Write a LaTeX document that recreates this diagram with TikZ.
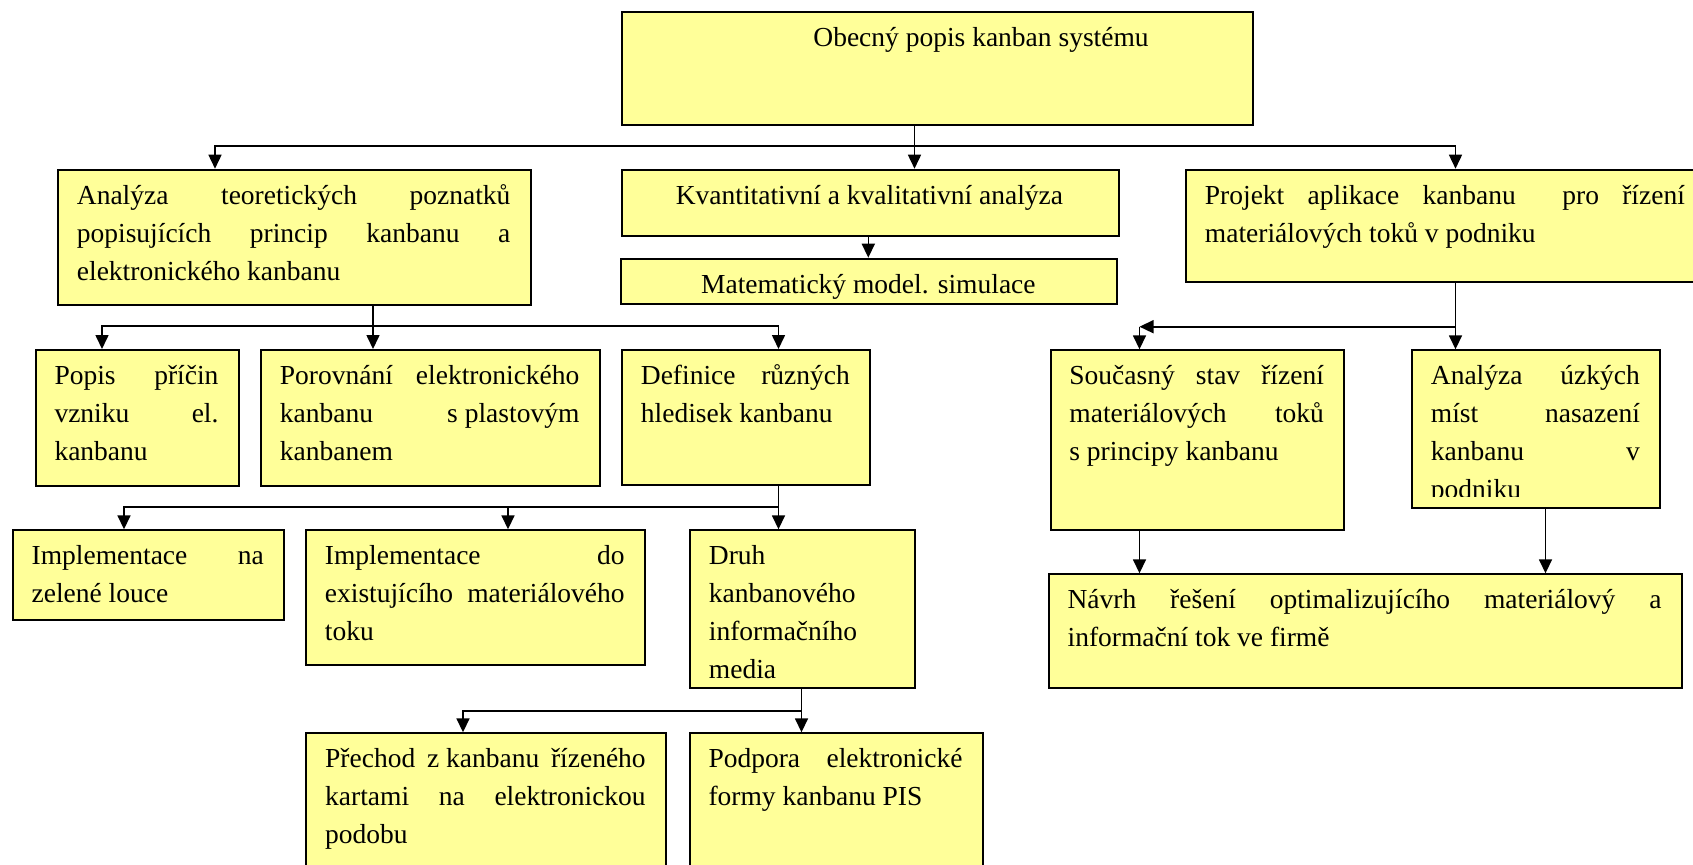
\documentclass[tikz,border=0pt]{standalone}
\usepackage{fontspec}
\setmainfont{Liberation Serif}
\usetikzlibrary{arrows.meta,calc}

\definecolor{kfill}{HTML}{FFFF99}
\newdimen\kpx \kpx=0.5pt
\newcommand\kfont{\fontsize{13.75pt}{19pt}\selectfont}
% justified line, last (left) line, centred line
\newcommand\kjl[1]{\hbox to\hsize{\strut#1}}
\newcommand\kll[1]{\hbox to\hsize{\strut#1\hfil}}
\newcommand\kcl[1]{\hbox to\hsize{\hfil\strut#1\hfil}}

\tikzset{
  kbox/.style={draw=black, line width=1pt, fill=kfill, inner sep=0pt, anchor=north west},
  ktext/.style={inner sep=0pt, anchor=north west, font=\kfont},
  link/.style={line width=0.8pt, draw=black},
  arr/.style={link, -{Triangle[length=7pt,width=6.5pt]}},
}
% box: name, x1, y1, x2, y2
\newcommand\kb[5]{\node[kbox, minimum width={(#4-(#2))*0.5pt}, minimum height={(#5-(#3))*0.5pt}] (#1) at (#2,#3) {};}
% text: name, box, left inset, width, stacked lines
\newcommand\kt[5]{\node[ktext] (#1) at ($(#2.north west)+(#3,8.4)$) {\vtop{\hsize=#4\kpx #5}};}

\begin{document}
\begin{tikzpicture}[x=0.5pt, y=-0.5pt]
\useasboundingbox (0,0) rectangle (1693,864);
\clip (0,0) rectangle (1693,864);

% boxes
\kb{top}{620.6}{10.7}{1252.4}{123.7}
\kb{an}{57}{168.7}{529.5}{304}
\kb{kv}{620.6}{168.7}{1117.5}{235}
\kb{mm}{619.5}{257.7}{1116.4}{302.7}
\kb{pr}{1185}{168.7}{1704}{281}
\kb{po}{34.6}{349}{237.6}{484.7}
\kb{pv}{260}{349}{598.5}{484.7}
\kb{de}{621}{349}{869}{483.7}
\kb{in}{11.7}{529.3}{282.8}{618.7}
\kb{id}{305}{529.3}{643.7}{664}
\kb{dr}{689}{529.3}{914}{687}
\kb{pc}{305.3}{732.3}{664.8}{880}
\kb{pd}{688.6}{732.3}{981.6}{880}
\kb{so}{1049.5}{349.3}{1343}{528.7}
\kb{au}{1411}{349.3}{1659}{507}
\kb{na}{1047.7}{573.3}{1680.6}{687}

% texts
\node[ktext] (t-top) at ($(top.north west)+(192.4,8.4)$) {\strut Obecný popis kanban systému};
\kt{t-an}{an}{19.5}{433.5}{\kjl{Analýza teoretických poznatků}\kjl{popisujících princip kanbanu a}\kll{elektronického kanbanu}}
\kt{t-kv}{kv}{19.5}{457.9}{\kcl{Kvantitativní a kvalitativní analýza}}
\kt{t-mm}{mm}{19.5}{457.9}{\kcl{Matematický model. simulace}}
\kt{t-pr}{pr}{19.5}{480}{\kjl{Projekt aplikace kanbanu\ \ pro řízení}\kll{materiálových toků v podniku}}
\kt{t-po}{po}{19.5}{164}{\kjl{Popis příčin}\kjl{vzniku el.}\kll{kanbanu}}
\kt{t-pv}{pv}{19.5}{299.5}{\kjl{Porovnání elektronického}\kjl{kanbanu \mbox{s plastovým}}\kll{kanbanem}}
\kt{t-de}{de}{19.5}{209}{\kjl{Definice různých}\kll{hledisek kanbanu}}
\kt{t-in}{in}{19.5}{232.1}{\kjl{Implementace na}\kll{zelené louce}}
\kt{t-id}{id}{19.5}{299.7}{\kjl{Implementace do}\kjl{existujícího materiálového}\kll{toku}}
\kt{t-dr}{dr}{19.5}{186}{\kll{Druh}\kll{kanbanového}\kll{informačního}\kll{media}}
\kt{t-pc}{pc}{19.5}{320.5}{\kjl{Přechod \mbox{z kanbanu} řízeného}\kjl{kartami na elektronickou}\kll{podobu}}
\kt{t-pd}{pd}{19.5}{254}{\kjl{Podpora elektronické}\kll{formy kanbanu PIS}}
\kt{t-so}{so}{19.5}{254.5}{\kjl{Současný stav řízení}\kjl{materiálových toků}\kll{\mbox{s principy} kanbanu}}
\begin{scope}
  \clip (1411,349.3) rectangle (1659,496.7);
  \kt{t-au}{au}{19.5}{209}{\kjl{Analýza úzkých}\kjl{míst nasazení}\kjl{kanbanu v}\kll{podniku}}
\end{scope}
\kt{t-na}{na}{19.5}{593.9}{\kjl{Návrh řešení optimalizujícího materiálový a}\kll{informační tok ve firmě}}

% connector columns and junctions
\coordinate (xa) at (215,0);
\coordinate (xk) at (914.5,0);
\coordinate (xp) at (1455.5,0);
\coordinate (xm) at (868.3,0);
\coordinate (xan) at (373,0);
\coordinate (xpo) at (102,0);
\coordinate (xde) at (778.5,0);
\coordinate (xin) at (124,0);
\coordinate (xid) at (508,0);
\coordinate (xdr) at (801.5,0);
\coordinate (xpc) at (463,0);
\coordinate (xso) at (1139.5,0);
\coordinate (xau) at (1545.5,0);
\coordinate (j1) at (914.5,146);
\coordinate (j2) at (373,326);
\coordinate (j3) at (778.5,506.7);
\coordinate (j4) at (801.5,710.7);
\coordinate (j5) at (1455.5,326.7);
\coordinate (k5) at (1139.5,326.7);

% top level
\draw[arr] (xk |- top.south) -- (xk |- kv.north);
\draw[arr] (j1) -| (xa |- an.north);
\draw[arr] (j1) -| (xp |- pr.north);
\draw[arr] (xm |- kv.south) -- (xm |- mm.north);

% theory branch
\draw[arr] (xan |- an.south) -- (xan |- pv.north);
\draw[arr] (j2) -| (xpo |- po.north);
\draw[arr] (j2) -| (xde |- de.north);

\draw[arr] (xde |- de.south) -- (xde |- dr.north);
\draw[arr] (j3) -| (xin |- in.north);
\draw[arr] (j3) -| (xid |- id.north);

\draw[arr] (xdr |- dr.south) -- (xdr |- pd.north);
\draw[arr] (j4) -| (xpc |- pc.north);

% project branch
\draw[arr] (xp |- pr.south) -- (xp |- au.north);
\draw[arr] (j5) -- (k5);
\draw[arr] (k5) -- (xso |- so.north);
\draw[arr] (xso |- so.south) -- (xso |- na.north);
\draw[arr] (xau |- au.south) -- (xau |- na.north);
\end{tikzpicture}
\end{document}
